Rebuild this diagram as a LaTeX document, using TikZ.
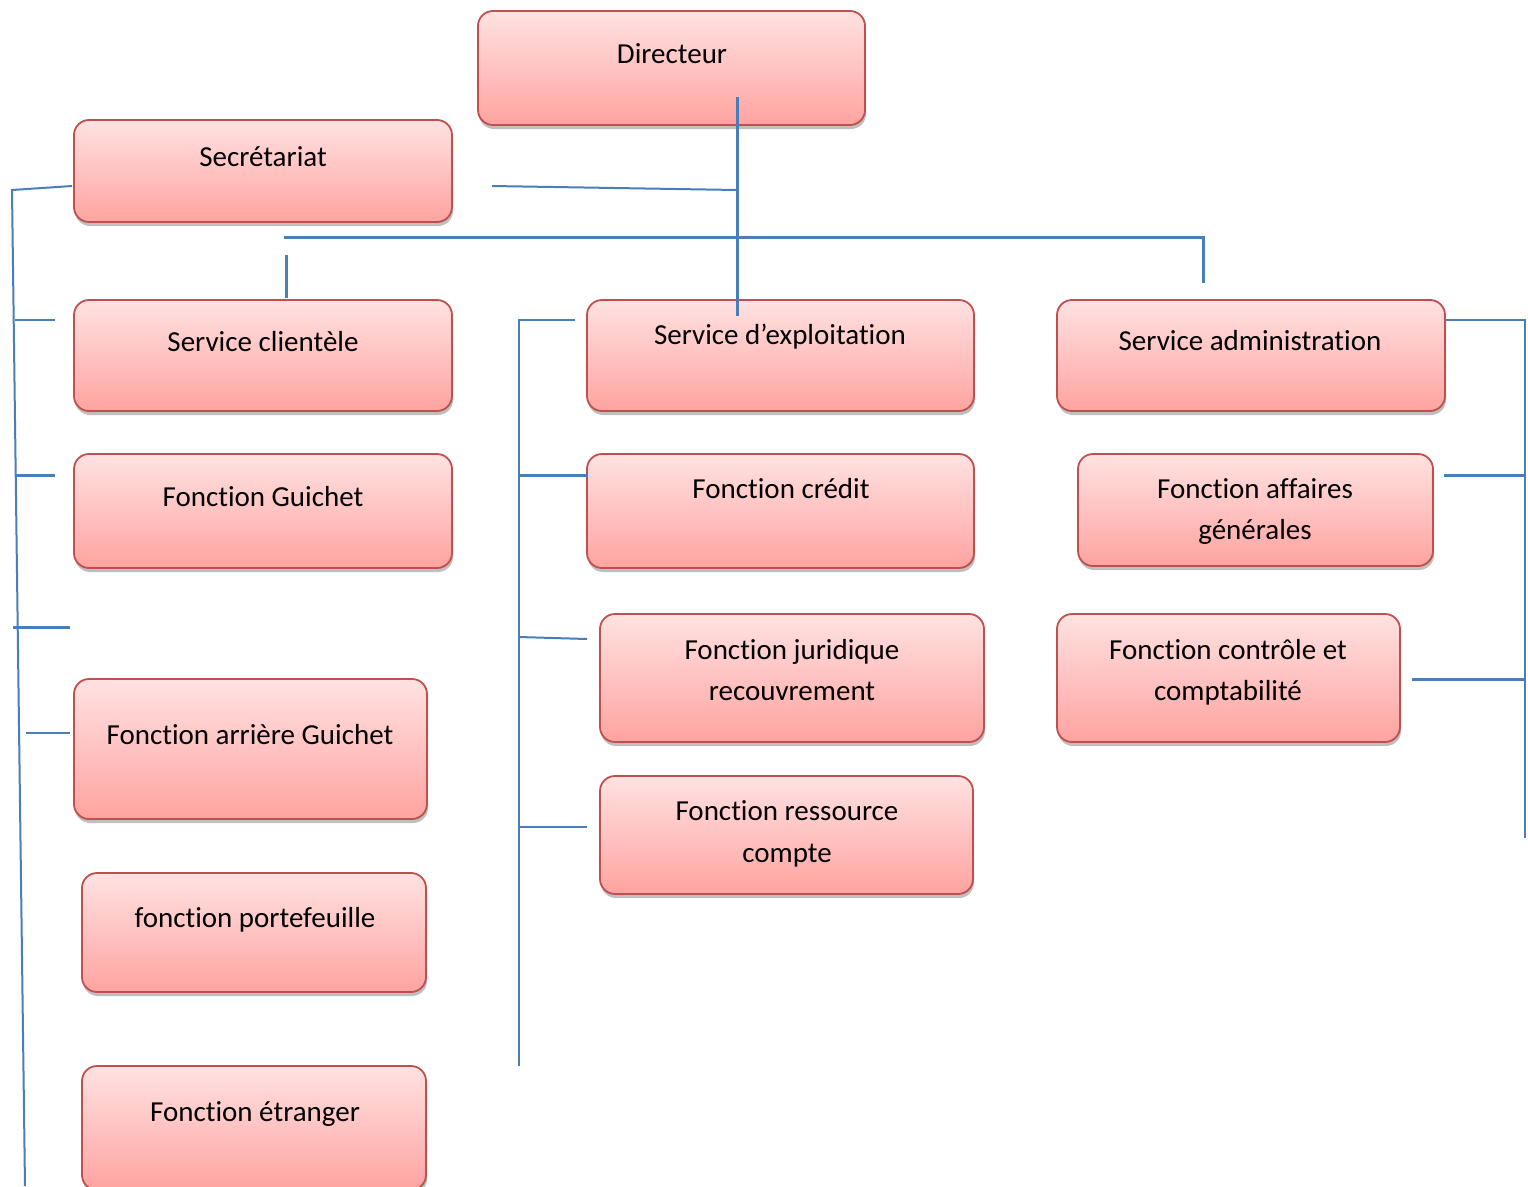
\documentclass[tikz,border=0pt]{standalone}
\usepackage{fontspec}
\setmainfont{Carlito}[Ligatures=NoCommon]
\usetikzlibrary{shadows}
\definecolor{bordr}{RGB}{192,80,77}
\definecolor{topc}{RGB}{255,226,226}
\definecolor{botc}{RGB}{255,163,160}
\definecolor{conn}{RGB}{74,126,187}
\tikzset{
  box/.style={draw=bordr, line width=1.8pt, rounded corners=15pt, top color=topc, bottom color=botc,
    drop shadow={shadow xshift=1pt, shadow yshift=-4pt, opacity=0.25, fill=black}, inner sep=0pt},
  txt/.style={anchor=base, inner sep=0pt, font=\fontsize{29}{41}\selectfont},
  link/.style={draw=conn, line width=3pt},
  thin/.style={draw=conn, line width=2pt}
}
\begin{document}
\begin{tikzpicture}[x=1pt,y=-1pt]
\clip (0,0) rectangle (1528,1186);
\fill[white] (0,0) rectangle (1528,1186);
% boxes
\node[box, minimum width=387pt, minimum height=114pt] (dir) at (671.5,68) {};
\node[box, minimum width=378pt, minimum height=102pt] (sec) at (263,171) {};
\node[box, minimum width=378pt, minimum height=111pt] (scl) at (263,355.5) {};
\node[box, minimum width=387pt, minimum height=111pt] (sexp) at (780.5,355.5) {};
\node[box, minimum width=388pt, minimum height=111pt] (sadm) at (1251,355.5) {};
\node[box, minimum width=378pt, minimum height=114pt] (fgui) at (263,511) {};
\node[box, minimum width=387pt, minimum height=114pt] (fcre) at (780.5,511) {};
\node[box, minimum width=355pt, minimum height=112pt] (faff) at (1255.5,510) {};
\node[box, minimum width=384pt, minimum height=128pt] (fjur) at (792,678) {};
\node[box, minimum width=343pt, minimum height=128pt] (fcon) at (1228.5,678) {};
\node[box, minimum width=353pt, minimum height=140pt] (farr) at (250.5,749) {};
\node[box, minimum width=344pt, minimum height=119pt] (fpor) at (254,932.5) {};
\node[box, minimum width=373pt, minimum height=118pt] (fres) at (786.5,835) {};
\node[box, minimum width=344pt, minimum height=124pt] (fetr) at (254,1128) {};
% texts
\node[txt] (tdir) at (672,63) {Directeur};
\node[txt] (tsec) at (263,166) {Secrétariat};
\node[txt] (tscl) at (263,351) {Service clientèle};
\node[txt] (tsexp) at (780,344) {Service d’exploitation};
\node[txt] (tsadm) at (1250,350) {Service administration};
\node[txt] (tfgui) at (263,506) {Fonction Guichet};
\node[txt] (tfcre) at (781,498) {Fonction crédit};
\node[txt] (tfaff1) at (1255,498) {Fonction affaires};
\node[txt] (tfaff2) at (1255,539) {générales};
\node[txt] (tfjur1) at (792,659) {Fonction juridique};
\node[txt] (tfjur2) at (792,700) {recouvrement};
\node[txt] (tfcon1) at (1228,659) {Fonction contrôle et};
\node[txt] (tfcon2) at (1228,700) {comptabilité};
\node[txt] (tfarr) at (250,744) {Fonction arrière Guichet};
\node[txt] (tfpor) at (255,927) {fonction portefeuille};
\node[txt] (tfres1) at (787,820) {Fonction ressource};
\node[txt] (tfres2) at (787,862) {compte};
\node[txt] (tfetr) at (255,1121) {Fonction étranger};
% junction coordinates
\coordinate (dstub) at (737,97);
\coordinate (dend) at (737,316);
\coordinate (secR) at (492,186);
\coordinate (dmid) at (737,190);
\coordinate (hL) at (284,237);
\coordinate (hR) at (1203,237);
\coordinate (hRd) at (1203,283);
\coordinate (sclT) at (286,255);
\coordinate (sclB) at (286,298);
\coordinate (secL) at (72,186);
\coordinate (lTop) at (12,190);
\coordinate (lBot) at (25,1186);
\coordinate (lt1a) at (15,320); \coordinate (lt1b) at (55,320);
\coordinate (lt2a) at (15,475); \coordinate (lt2b) at (55,475);
\coordinate (lt3a) at (13,627); \coordinate (lt3b) at (70,627);
\coordinate (lt4a) at (26,733); \coordinate (lt4b) at (70,733);
\coordinate (mTop) at (519,320);
\coordinate (mBot) at (519,1066);
\coordinate (mt1) at (575,320);
\coordinate (mt2a) at (519,475); \coordinate (mt2b) at (587,475);
\coordinate (mt3a) at (519,637); \coordinate (mt3b) at (587,639);
\coordinate (mt4a) at (519,827); \coordinate (mt4b) at (587,827);
\coordinate (rA) at (1445,320);
\coordinate (rTop) at (1525,320);
\coordinate (rBot) at (1525,838);
\coordinate (rt2a) at (1444,475); \coordinate (rt2b) at (1525,475);
\coordinate (rt3a) at (1412,679); \coordinate (rt3b) at (1525,679);
% connectors
\draw[link] (dstub) -- (dend);
\draw[thin] (secR) -- (dmid);
\draw[link] (hL) -- (hR) -- (hRd);
\draw[link] (sclT) -- (sclB);
\draw[thin] (secL) -- (lTop) -- (lBot);
\draw[thin] (lt1a) -- (lt1b);
\draw[link] (lt2a) -- (lt2b);
\draw[link] (lt3a) -- (lt3b);
\draw[thin] (lt4a) -- (lt4b);
\draw[thin] (mt1) -- (mTop) -- (mBot);
\draw[link] (mt2a) -- (mt2b);
\draw[thin] (mt3a) -- (mt3b);
\draw[thin] (mt4a) -- (mt4b);
\draw[thin] (rA) -- (rTop) -- (rBot);
\draw[link] (rt2a) -- (rt2b);
\draw[link] (rt3a) -- (rt3b);
\end{tikzpicture}
\end{document}
